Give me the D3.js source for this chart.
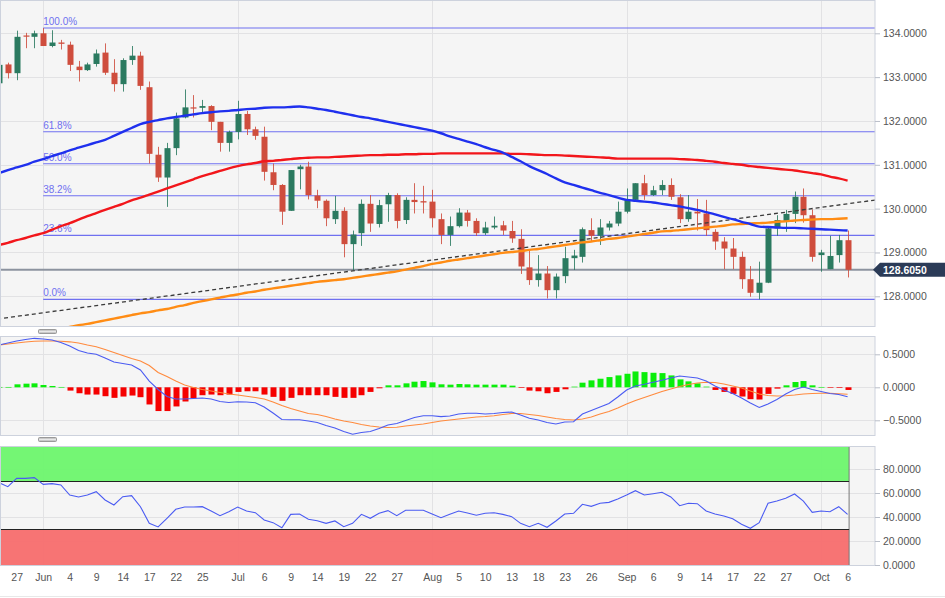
<!DOCTYPE html>
<html><head><meta charset="utf-8">
<script src="https://cdn.jsdelivr.net/npm/d3@7"></script>
<style>
html,body{margin:0;padding:0;background:#fff;}
svg{display:block;font-family:"Liberation Sans",Arial,sans-serif;}
</style></head><body>
<svg id="c" width="945" height="598"></svg>
<script>
// ---------- DATA ----------
const xTickIdx = [2,5,8,11,14,17,20,23,27,30,33,36,39,42,45,49,52,55,58,61,64,67,71,74,77,80,83,86,89,93,96];
const xTickLabels = ["27","Jun","4","9","14","17","22","25","Jul","6","9","14","19","22","27","Aug","5","10","13","18","23","26","Sep","6","9","14","17","22","27","Oct","6"];

const open = [132.86,133.29,133.09,133.95,133.92,134.00,133.71,133.79,133.74,133.24,
133.16,133.30,133.56,133.10,132.84,133.39,133.49,132.77,131.23,130.71,
131.38,132.08,132.31,132.30,132.34,131.98,131.50,131.75,132.16,131.81,
131.64,130.83,130.54,129.95,130.90,130.96,130.30,130.18,129.76,129.95,
129.19,129.44,130.11,129.65,130.10,130.31,129.74,130.20,130.17,130.16,
129.76,129.40,129.60,129.91,129.72,129.44,129.57,129.62,129.49,129.31,
128.66,128.37,128.52,128.14,128.46,128.87,128.90,129.51,129.38,129.57,
129.66,129.93,130.20,130.58,130.31,130.42,130.54,130.26,129.76,129.93,
129.89,129.47,129.25,129.09,128.90,128.39,128.08,128.31,129.55,129.72,
129.88,130.27,129.85,128.94,128.62,128.94,129.28];
const high = [133.35,133.33,134.06,134.01,134.06,134.12,134.07,133.85,133.81,133.37,
133.33,133.63,133.77,133.41,133.43,133.71,133.58,132.90,131.41,131.50,
132.19,132.72,132.59,132.48,132.36,131.98,131.78,132.46,132.23,131.87,
131.87,131.03,130.56,130.88,131.00,131.07,130.43,130.21,130.29,130.03,
129.50,130.21,130.31,130.20,130.36,130.35,130.26,130.58,130.52,130.43,
129.89,129.82,130.01,129.97,129.78,129.70,129.82,129.72,129.72,129.53,
129.07,128.94,128.69,128.52,129.13,129.06,129.57,129.78,129.76,129.72,
130.16,130.46,130.58,130.77,130.52,130.65,130.69,130.33,130.31,130.22,
130.20,129.53,129.35,129.33,129.02,128.69,128.79,129.56,129.85,129.97,
130.39,130.46,129.98,129.06,129.38,129.40,129.50];
const low = [132.80,132.97,132.93,133.66,133.66,133.71,133.68,133.63,133.14,132.90,
133.14,133.24,133.05,132.67,132.67,133.28,132.71,131.03,130.61,130.04,
131.22,132.06,132.08,132.16,131.79,131.30,131.30,131.58,131.68,131.57,
130.64,130.42,129.63,129.95,130.44,130.21,130.01,129.60,129.65,128.89,
128.60,129.15,129.47,129.57,129.70,129.55,129.65,129.89,129.89,129.57,
129.19,129.15,129.57,129.59,129.38,129.40,129.53,129.40,129.22,128.51,
128.26,128.22,127.95,127.95,128.30,128.60,128.77,129.25,129.17,129.50,
129.60,129.89,130.16,130.20,130.29,130.31,130.20,129.67,129.70,129.50,
129.38,129.06,128.62,128.62,128.17,127.99,127.93,128.30,129.38,129.47,
129.67,129.68,128.79,128.56,128.62,128.77,128.43];
const close = [133.28,133.09,133.92,133.93,134.00,133.71,133.79,133.76,133.28,133.16,
133.29,133.54,133.10,132.84,133.39,133.49,132.80,131.25,130.71,131.38,
132.06,132.31,132.29,132.34,131.98,131.50,131.75,132.16,131.81,131.66,
130.84,130.54,129.93,130.88,130.96,130.31,130.18,129.78,129.95,129.19,
129.41,130.11,129.66,130.08,130.31,129.72,130.20,130.15,130.14,129.78,
129.40,129.60,129.91,129.72,129.44,129.57,129.61,129.50,129.32,128.68,
128.37,128.52,128.14,128.45,128.87,128.93,129.53,129.38,129.57,129.66,
129.93,130.20,130.58,130.31,130.42,130.54,130.27,129.76,129.93,129.89,
129.51,129.25,129.09,128.90,128.39,128.08,128.31,129.55,129.74,129.88,
130.27,129.85,128.90,129.00,128.92,129.28,128.605];

const sma50 = [130.81,130.88,130.94,131.00,131.07,131.13,131.20,131.26,131.33,131.39,
131.45,131.51,131.57,131.66,131.75,131.84,131.93,131.98,132.02,132.06,
132.09,132.12,132.15,132.18,132.20,132.22,132.23,132.25,132.27,132.28,
132.30,132.31,132.31,132.32,132.33,132.31,132.28,132.25,132.21,132.17,
132.13,132.09,132.06,132.02,131.98,131.94,131.90,131.86,131.82,131.78,
131.72,131.65,131.59,131.53,131.47,131.40,131.34,131.28,131.18,131.08,
130.97,130.88,130.79,130.69,130.60,130.54,130.48,130.42,130.36,130.31,
130.25,130.20,130.18,130.16,130.14,130.11,130.08,130.05,130.01,129.97,
129.92,129.87,129.81,129.76,129.70,129.65,129.59,129.58,129.57,129.56,
129.56,129.55,129.54,129.53,129.52,129.51,129.50];
const sma100 = [129.17,129.22,129.28,129.33,129.39,129.44,129.52,129.60,129.67,129.75,
129.83,129.90,129.97,130.04,130.11,130.19,130.25,130.32,130.39,130.46,
130.53,130.60,130.67,130.74,130.80,130.86,130.92,130.97,131.01,131.04,
131.08,131.09,131.11,131.13,131.15,131.16,131.17,131.17,131.18,131.19,
131.20,131.21,131.22,131.22,131.23,131.23,131.24,131.24,131.25,131.25,
131.26,131.26,131.26,131.26,131.26,131.26,131.26,131.26,131.25,131.25,
131.24,131.23,131.22,131.22,131.21,131.20,131.19,131.18,131.17,131.16,
131.14,131.14,131.14,131.14,131.14,131.14,131.14,131.13,131.12,131.11,
131.09,131.07,131.04,131.02,131.00,130.97,130.95,130.93,130.91,130.89,
130.87,130.84,130.81,130.78,130.73,130.69,130.64];
const sma200 = [127.00,127.04,127.08,127.11,127.15,127.19,127.22,127.26,127.30,127.34,
127.37,127.41,127.45,127.49,127.53,127.57,127.61,127.64,127.68,127.71,
127.76,127.80,127.85,127.89,127.93,127.97,128.01,128.04,128.08,128.11,
128.15,128.18,128.21,128.24,128.27,128.30,128.33,128.35,128.37,128.39,
128.42,128.45,128.48,128.51,128.54,128.57,128.61,128.65,128.69,128.74,
128.77,128.81,128.84,128.87,128.90,128.93,128.96,128.99,129.01,129.03,
129.06,129.08,129.11,129.14,129.17,129.20,129.23,129.25,129.28,129.31,
129.33,129.36,129.39,129.42,129.45,129.48,129.49,129.51,129.53,129.55,
129.57,129.59,129.61,129.64,129.65,129.66,129.67,129.68,129.70,129.71,
129.73,129.74,129.75,129.76,129.76,129.77,129.78];

const trendIdx = [-1, 100];
const trendPrice = [127.46, 130.22];

const fibLevels = [0, 0.236, 0.382, 0.5, 0.618, 1];
const fibLabels = ["0.0%","23.6%","38.2%","50.0%","61.8%","100.0%"];
const fibLow = 127.93, fibHigh = 134.12, fibStartIdx = 5;
const lastPrice = 128.605;

const macdLine = [0.641,0.671,0.702,0.724,0.742,0.732,0.717,0.679,0.626,0.558,
0.520,0.500,0.444,0.383,0.361,0.338,0.262,0.095,-0.033,-0.139,
-0.177,-0.177,-0.170,-0.162,-0.177,-0.215,-0.230,-0.218,-0.223,-0.233,
-0.298,-0.389,-0.488,-0.492,-0.491,-0.511,-0.533,-0.579,-0.617,-0.670,
-0.712,-0.685,-0.670,-0.624,-0.571,-0.548,-0.503,-0.458,-0.430,-0.430,
-0.445,-0.435,-0.405,-0.394,-0.394,-0.405,-0.397,-0.382,-0.374,-0.420,
-0.470,-0.495,-0.533,-0.556,-0.526,-0.521,-0.405,-0.352,-0.298,-0.245,
-0.147,-0.041,0.020,0.045,0.077,0.108,0.141,0.171,0.156,0.141,
0.095,0.020,-0.041,-0.094,-0.162,-0.238,-0.306,-0.253,-0.185,-0.102,
-0.033,0.005,-0.033,-0.064,-0.094,-0.109,-0.142];
const signalLine = [0.641,0.656,0.671,0.686,0.697,0.702,0.702,0.697,0.689,0.671,
0.641,0.615,0.573,0.527,0.482,0.436,0.398,0.330,0.224,0.164,
0.095,0.035,-0.003,-0.033,-0.056,-0.079,-0.102,-0.117,-0.136,-0.155,
-0.177,-0.223,-0.276,-0.321,-0.359,-0.397,-0.412,-0.442,-0.480,-0.511,
-0.533,-0.564,-0.586,-0.602,-0.609,-0.606,-0.586,-0.571,-0.556,-0.533,
-0.511,-0.495,-0.480,-0.465,-0.450,-0.442,-0.430,-0.412,-0.397,-0.397,
-0.412,-0.427,-0.450,-0.473,-0.488,-0.495,-0.480,-0.450,-0.405,-0.367,
-0.314,-0.253,-0.200,-0.155,-0.109,-0.064,-0.026,0.012,0.042,0.065,
0.076,0.073,0.050,0.020,-0.011,-0.056,-0.102,-0.124,-0.132,-0.127,
-0.117,-0.102,-0.094,-0.091,-0.091,-0.098,-0.106];
const macdHist = [0.005,0.005,0.045,0.055,0.06,0.035,0.02,0.005,-0.05,-0.09,
-0.11,-0.11,-0.135,-0.16,-0.14,-0.125,-0.15,-0.26,-0.36,-0.36,
-0.29,-0.215,-0.165,-0.12,-0.11,-0.12,-0.11,-0.07,-0.06,-0.06,
-0.11,-0.145,-0.205,-0.16,-0.12,-0.12,-0.12,-0.12,-0.145,-0.16,
-0.16,-0.12,-0.07,-0.015,0.03,0.03,0.06,0.085,0.095,0.075,
0.045,0.04,0.05,0.045,0.04,0.04,0.04,0.04,0.025,-0.01,
-0.05,-0.06,-0.09,-0.07,-0.03,0.01,0.07,0.105,0.13,0.155,
0.18,0.205,0.24,0.23,0.22,0.215,0.18,0.12,0.09,0.06,
0.01,-0.04,-0.07,-0.10,-0.14,-0.18,-0.185,-0.10,-0.02,0.03,
0.08,0.095,0.03,0.005,-0.005,-0.01,-0.04];
const rsi = [68.6,65.3,72.2,72.2,72.8,67.2,67.8,66.7,58.3,56.7,
58.3,61.1,54.2,50.0,56.9,57.8,48.6,34.7,31.7,38.9,
46.4,48.3,48.3,48.6,45.0,41.1,44.4,48.3,45.0,43.6,
37.5,35.3,31.1,42.2,42.5,38.1,36.9,34.7,36.7,31.9,
34.7,42.2,38.9,43.1,45.3,41.1,45.6,45.6,45.6,42.5,
39.4,42.2,45.0,43.3,41.5,43.1,43.6,42.2,40.3,34.7,
31.9,34.7,31.4,36.7,42.5,43.1,50.6,48.9,51.4,52.2,
55.0,58.3,61.9,58.3,59.4,60.6,56.7,49.4,51.4,51.1,
45.0,42.5,40.8,38.6,33.9,30.6,35.3,51.4,53.3,55.6,
59.2,53.3,43.9,45.0,44.4,48.6,42.2];

const priceTicks = [128,129,130,131,132,133,134];
const macdTicks = [-0.5,0,0.5];
const rsiTicks = [0,20,40,60,80];
const rsiUpper = 70, rsiLower = 30;

// ---------- LAYOUT ----------
const svg = d3.select("#c");
const PR = 875;
const P = {price:[0,327], macd:[336,436], rsi:[446,566]};
const x = d3.scaleLinear().domain([0, 99.1]).range([-1, 875]);
const yP = d3.scaleLinear().domain([128,134]).range([296.3,33.3]);
const yM = d3.scaleLinear().domain([-0.5,0.5]).range([420.3,354.3]);
const yR = d3.scaleLinear().domain([0,100]).range([565,445]);
const idx = d3.range(open.length);
const monthIdx = xTickIdx.filter((d,i)=>isNaN(+xTickLabels[i]));
const GRID = "#e2e2e4", BORDER = "#cdd2dd";

svg.append("rect").attr("width",945).attr("height",598).attr("fill","#fff");
const defs = svg.append("defs");
Object.entries(P).forEach(([k,[t,b]])=>{
  defs.append("clipPath").attr("id","clip-"+k).append("rect").attr("x",0).attr("y",t).attr("width",PR).attr("height",b-t);
  svg.append("rect").attr("x",0).attr("y",t).attr("width",PR).attr("height",b-t).attr("fill","#f5f5f5");
});

function hgrid(g, scale, ticks){
  g.selectAll(null).data(ticks).join("line")
    .attr("x1",0).attr("x2",PR).attr("y1",d=>Math.round(scale(d))+0.5).attr("y2",d=>Math.round(scale(d))+0.5)
    .attr("stroke",GRID).attr("stroke-width",1);
}
function vgrid(g, t, b){
  g.selectAll(null).data(monthIdx).join("line")
    .attr("x1",d=>Math.round(x(d))+0.5).attr("x2",d=>Math.round(x(d))+0.5).attr("y1",t).attr("y2",b)
    .attr("stroke",GRID).attr("stroke-width",1);
}

// ---------- PRICE PANEL ----------
const gp = svg.append("g").attr("clip-path","url(#clip-price)");
hgrid(gp, yP, priceTicks); vgrid(gp, P.price[0], P.price[1]);

// fib lines
const fib = fibLevels.map((l,i)=>({p: fibLow + l*(fibHigh-fibLow), label: fibLabels[i]}));
gp.selectAll(null).data(fib).join("line")
  .attr("x1",x(fibStartIdx)).attr("x2",PR).attr("y1",d=>yP(d.p)).attr("y2",d=>yP(d.p))
  .attr("stroke","#6f70f0").attr("stroke-width",1.1);
gp.selectAll(null).data(fib).join("text")
  .attr("x",x(fibStartIdx)).attr("y",d=>yP(d.p)-3).text(d=>d.label)
  .attr("font-size","10px").attr("fill","#6f70f0");

// last price line
gp.append("line").attr("x1",0).attr("x2",PR).attr("y1",yP(lastPrice)).attr("y2",yP(lastPrice))
  .attr("stroke","#8c939f").attr("stroke-width",2);

// candles
const RED = "#cf4d3d", GREEN = "#2b7a60";
const cg = gp.append("g");
cg.selectAll(null).data(idx).join("line")
  .attr("x1",i=>Math.round(x(i))+0.5).attr("x2",i=>Math.round(x(i))+0.5)
  .attr("y1",i=>yP(high[i])).attr("y2",i=>yP(low[i]))
  .attr("stroke",i=>close[i]>=open[i]?GREEN:RED).attr("stroke-width",1).attr("opacity",0.85);
cg.selectAll(null).data(idx).join("rect")
  .attr("x",i=>Math.round(x(i))-2.5).attr("width",6)
  .attr("y",i=>yP(Math.max(open[i],close[i])))
  .attr("height",i=>Math.max(1.2, Math.abs(yP(open[i])-yP(close[i]))))
  .attr("fill",i=>close[i]>=open[i]?GREEN:RED);

// trend line
gp.append("line").attr("x1",x(trendIdx[0])).attr("x2",x(trendIdx[1]))
  .attr("y1",yP(trendPrice[0])).attr("y2",yP(trendPrice[1]))
  .attr("stroke","#3a3a3a").attr("stroke-width",1.3).attr("stroke-dasharray","4,3");

// moving averages
const lineP = arr => d3.line().x(i=>x(i)).y(i=>yP(arr[i])).curve(d3.curveMonotoneX)(idx);
gp.append("path").attr("d",lineP(sma200)).attr("fill","none").attr("stroke","#ff8c14").attr("stroke-width",2.4);
gp.append("path").attr("d",lineP(sma100)).attr("fill","none").attr("stroke","#f2161b").attr("stroke-width",2.4);
gp.append("path").attr("d",lineP(sma50)).attr("fill","none").attr("stroke","#1f30ee").attr("stroke-width",2.4);

// ---------- MACD PANEL ----------
const gm = svg.append("g").attr("clip-path","url(#clip-macd)");
hgrid(gm, yM, macdTicks); vgrid(gm, P.macd[0], P.macd[1]);
gm.selectAll(null).data(idx).join("rect")
  .attr("x",i=>Math.round(x(i))-2.5).attr("width",6)
  .attr("y",i=>macdHist[i]>=0? yM(macdHist[i]) : yM(0))
  .attr("height",i=>Math.max(0.6, Math.abs(yM(macdHist[i])-yM(0))))
  .attr("fill",i=>macdHist[i]>=0?"#0aee0a":"#f50000");
const lineM = arr => d3.line().x(i=>x(i)).y(i=>yM(arr[i]))(idx);
gm.append("path").attr("d",lineM(signalLine)).attr("fill","none").attr("stroke","#ff8a3d").attr("stroke-width",1.1);
gm.append("path").attr("d",lineM(macdLine)).attr("fill","none").attr("stroke","#4a5bf2").attr("stroke-width",1.1);

// ---------- RSI PANEL ----------
const gr = svg.append("g").attr("clip-path","url(#clip-rsi)");
hgrid(gr, yR, rsiTicks); vgrid(gr, P.rsi[0], P.rsi[1]);
const bandR = x(open.length-1)+1.5;
gr.append("rect").attr("x",0).attr("y",yR(100)).attr("width",bandR).attr("height",yR(rsiUpper)-yR(100))
  .attr("fill","#6ff66f").attr("opacity",0.97);
gr.append("rect").attr("x",0).attr("y",yR(rsiLower)).attr("width",bandR).attr("height",yR(0)-yR(rsiLower))
  .attr("fill","#f76f6f").attr("opacity",0.97);
gr.append("line").attr("x1",bandR).attr("x2",bandR).attr("y1",yR(100)).attr("y2",yR(0)).attr("stroke","#777").attr("stroke-width",1);
[rsiUpper, rsiLower].forEach(v=>{
  gr.append("line").attr("x1",0).attr("x2",bandR).attr("y1",Math.round(yR(v))+0.5).attr("y2",Math.round(yR(v))+0.5)
    .attr("stroke","#222").attr("stroke-width",1);
});
gr.append("path").attr("d",d3.line().x(i=>x(i)).y(i=>yR(rsi[i]))(idx))
  .attr("fill","none").attr("stroke","#4a5bf2").attr("stroke-width",1.1);

// ---------- BORDERS / AXES ----------
Object.values(P).forEach(([t,b])=>{
  svg.append("rect").attr("x",0.5).attr("y",t+0.5).attr("width",PR-0.5).attr("height",b-t-1)
    .attr("fill","none").attr("stroke",BORDER).attr("stroke-width",1);
});
function yAxis(scale, ticks){
  const g = svg.append("g").attr("transform",`translate(${PR},0)`)
    .call(d3.axisRight(scale).tickValues(ticks).tickFormat(d3.format(".4f")).tickSize(5).tickSizeOuter(0).tickPadding(3));
  g.select(".domain").remove();
  g.selectAll(".tick line").attr("stroke","#b9bec8");
  g.selectAll("text").attr("fill","#555").attr("font-size","10.5px").attr("font-family","'Liberation Sans',Arial,sans-serif");
}
yAxis(yP, priceTicks); yAxis(yM, macdTicks); yAxis(yR, rsiTicks);

const gx = svg.append("g").attr("transform","translate(0,566)")
  .call(d3.axisBottom(x).tickValues(xTickIdx).tickFormat((d,i)=>xTickLabels[i]).tickSize(0).tickPadding(8));
gx.select(".domain").remove();
gx.selectAll("text").attr("fill","#555").attr("font-size","10.5px").attr("font-family","'Liberation Sans',Arial,sans-serif");
svg.append("line").attr("x1",0).attr("x2",945).attr("y1",596.5).attr("y2",596.5).attr("stroke","#e8e8e8");

// last price tag
const ly = yP(lastPrice);
svg.append("path").attr("d",`M${PR-2},${ly} L${PR+5},${ly-7} L945,${ly-7} L945,${ly+7} L${PR+5},${ly+7} Z`).attr("fill","#2b3b57");
svg.append("text").attr("x",PR+8).attr("y",ly+4).text(d3.format(".4f")(lastPrice))
  .attr("fill","#fff").attr("font-weight","bold").attr("font-size","10.5px");

// panel handles
[330, 438].forEach(yy=>{
  svg.append("rect").attr("x",38.5).attr("y",yy-0.5).attr("width",18).attr("height",4).attr("rx",1)
    .attr("fill","#c9c9c9").attr("stroke","#9a9a9a").attr("stroke-width",1);
  svg.append("line").attr("x1",39).attr("x2",56).attr("y1",yy+1.5).attr("y2",yy+1.5).attr("stroke","#e8e8e8");
});
</script>
</body></html>
